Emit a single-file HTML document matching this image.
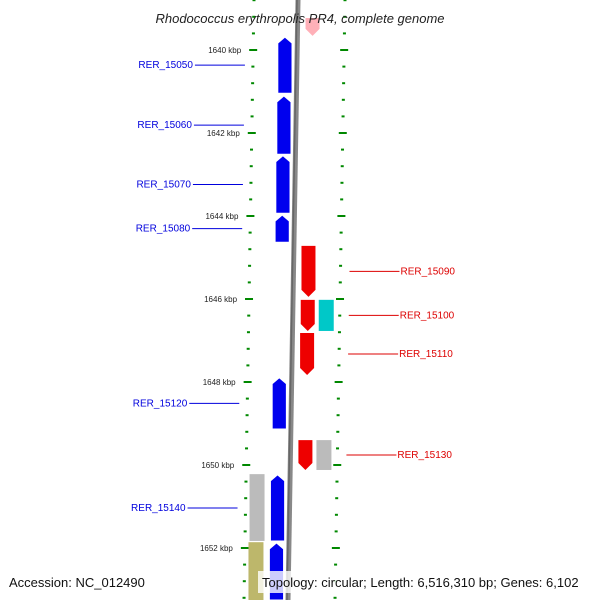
<!DOCTYPE html>
<html><head><meta charset="utf-8"><style>
body{margin:0;background:#fff}
svg{display:block;font-family:"Liberation Sans","DejaVu Sans",sans-serif}
</style></head><body>
<svg id="map" width="600" height="600" viewBox="0 0 600 600">
<rect width="600" height="600" fill="#fff"/>
<g id="ticks"></g>
<g id="genes"></g>
<line x1="298" y1="0" x2="288" y2="600" stroke="#888" stroke-width="5"/>
<line x1="297" y1="0" x2="287" y2="600" stroke="#666" stroke-width="1.5"/>
<g id="labels"></g>
<text x="300" y="23" text-anchor="middle" font-size="13" font-style="italic" fill="#222">Rhodococcus erythropolis PR4, complete genome</text>
<text x="9" y="587" font-size="13" fill="#111">Accession: NC_012490</text>
<rect x="258" y="571" width="336" height="22" fill="#fff" opacity="0.8"/>
<text x="262" y="587" font-size="13" fill="#111">Topology: circular; Length: 6,516,310 bp; Genes: 6,102</text>
</svg>
<script>
const geneNames=["RER_15050","RER_15060","RER_15070","RER_15080","RER_15120","RER_15140","","RER_15090","RER_15100","RER_15110","RER_15130",""];
const geneStart=[1639.69,1641.11,1642.55,1643.98,1647.90,1650.24,1651.88,1644.72,1646.02,1646.82,1649.40,1639.23];
const geneEnd=[1641.04,1642.51,1643.93,1644.63,1649.13,1651.83,1653.25,1645.95,1646.77,1647.83,1650.12,1639.66];
const geneStrand=[1,1,1,1,1,1,1,-1,-1,-1,-1,-1];
const tickLabels=[1640,1642,1644,1646,1648,1650,1652];
const otherFeatStart=[1650.22,1651.86,1646.02,1649.40];
const otherFeatEnd=[1651.83,1653.30,1646.77,1650.12];
const otherFeatColor=["#bbb","#bdb76b","#00c8c8","#bbb"];
const otherFeatSide=[-1,-1,1,1];
const NS="http://www.w3.org/2000/svg";
const yS=k=>50+(k-1640)*41.5;
const bx=y=>298-y*10/600;
function mk(t,a,p){const e=document.createElementNS(NS,t);for(const k in a)e.setAttribute(k,a[k]);p.appendChild(e);return e;}
const T=document.getElementById('ticks'),G=document.getElementById('genes'),L=document.getElementById('labels');
for(let k=1638.8;k<=1654;k+=0.4){
  const y=yS(k);if(y<-2||y>602)continue;
  const major=Math.abs((k-1640)/2-Math.round((k-1640)/2))<0.01;
  const xl=bx(y)-44,xr=bx(y)+47;
  const w=major?8:3;
  const a=mk('rect',{x:xl-w/2,y:y-1,width:w,height:2,fill:'#080'},T);
  
  
  const b=mk('rect',{x:xr-w/2,y:y-1,width:w,height:2,fill:'#080'},T);
  
  
}
tickLabels.forEach(k=>{const y=yS(k);
  const t=mk('text',{x:bx(y)-56,y:y+3,'text-anchor':'end','font-size':'8',fill:'#222'},T);
  t.textContent=k+' kbp';
  
  
});
otherFeatStart.forEach((s,i)=>{
  const y1=yS(s),y2=yS(otherFeatEnd[i]);const ym=(y1+y2)/2;
  const x=otherFeatSide[i]<0?bx(ym)-40:bx(ym)+26;
  const r=mk('rect',{x:x,y:y1,width:15,height:y2-y1,fill:otherFeatColor[i]},G);
  
  
});
geneStart.forEach((s,i)=>{
  const y1=yS(s),y2=yS(geneEnd[i]);const ym=(y1+y2)/2;
  const fwd=geneStrand[i]>0;
  const x=fwd?bx(ym)-19:bx(ym)+8;const w=14;
  let col=fwd?'#0000ee':'#ee0000';
  if(i===11)col='#ffb0b8';
  const pts=fwd?`${x},${y1+6} ${x+w/2},${y1} ${x+w},${y1+6} ${x+w},${y2} ${x},${y2}`:`${x},${y1} ${x+w},${y1} ${x+w},${y2-7} ${x+w/2},${y2} ${x},${y2-7}`;
  const p=mk('polygon',{points:pts,fill:col,stroke:fwd?'#fff':'none','stroke-width':'0.8'},G);
  
  
  if(geneNames[i]){
    const lx=fwd?bx(ym)-52:bx(ym)+60;
    const c=fwd?'#0000dd':'#dd0000';
    mk('line',{x1:fwd?lx-50:lx-4,y1:ym,x2:fwd?lx:lx+46,y2:ym,stroke:c,'stroke-width':'1'},L);
    const t=mk('text',{x:fwd?lx-52:lx+47,y:ym+3,'text-anchor':fwd?'end':'start','font-size':'10',fill:c},L);
    t.textContent=geneNames[i];
    
    
  }
});
</script>
</body></html>
